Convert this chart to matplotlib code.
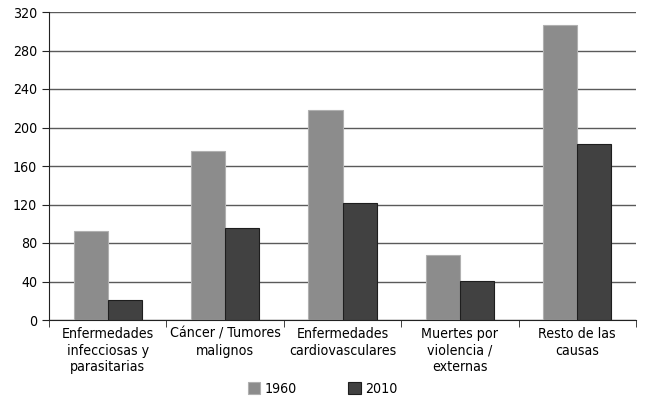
import numpy as np
import matplotlib.pyplot as plt

causas = ['Enfermedades\ninfecciosas y\nparasitarias', 'Cáncer / Tumores\nmalignos',
          'Enfermedades\ncardiovasculares', 'Muertes por\nviolencia /\nexternas',
          'Resto de las\ncausas']
v1960 = [92, 176, 218, 68, 307]
v2010 = [21, 96, 122, 41, 183]

plt.rcParams['font.family'] = ['DejaVu Sans']
plt.rcParams['font.stretch'] = 'condensed'

fig = plt.figure(figsize=(6.5, 4.12), dpi=100)
ax = fig.add_axes([49/650, 1-320/412, 587/650, 308/412])

x = np.arange(len(causas))
w = 0.29
ax.bar(x - w/2, v1960, w, color='#8c8c8c', edgecolor='#b0b0b0', linewidth=0.8, label='1960', zorder=3)
ax.bar(x + w/2, v2010, w, color='#414141', edgecolor='#1e1e1e', linewidth=0.8, label='2010', zorder=3)

ax.set_xlim(-0.5, len(causas) - 0.5)
ax.set_ylim(0, 320)
ax.set_yticks(np.arange(0, 321, 40))
ax.yaxis.grid(True, color='#5a5a5a', linewidth=1.0, zorder=0)
ax.set_axisbelow(True)

ax.set_xticks(x)
ax.set_xticklabels(causas, fontsize=10.2, linespacing=1.25)
ax.set_xticks(np.arange(-0.5, len(causas)), minor=True)
ax.tick_params(axis='x', which='major', length=0, pad=5)
ax.tick_params(axis='x', which='minor', length=5, color='#222222', direction='out')
ax.tick_params(axis='y', labelsize=10.2, length=5, color='#222222', direction='out')

for s in ['top', 'right']:
    ax.spines[s].set_visible(False)
for s in ['left', 'bottom']:
    ax.spines[s].set_color('#222222')

ax.legend(loc='upper center', bbox_to_anchor=(0.466, -0.16), ncol=2, frameon=False,
          fontsize=10.2, handlelength=0.9, handleheight=0.9, columnspacing=3.6, handletextpad=0.3)

fig.savefig('out.png', dpi=100)
